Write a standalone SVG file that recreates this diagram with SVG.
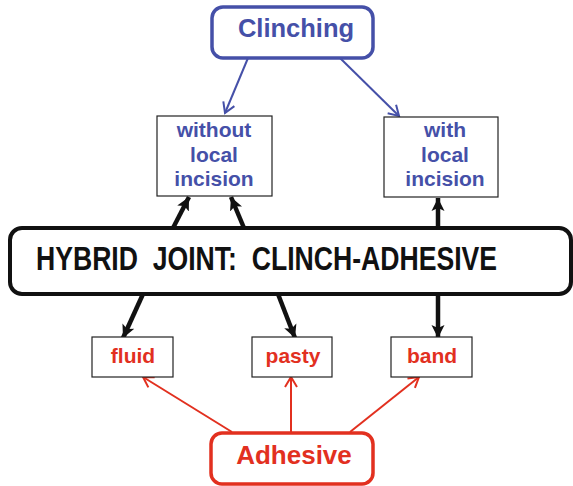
<svg xmlns="http://www.w3.org/2000/svg" width="573" height="486" viewBox="0 0 573 486">
<style>
.t{font-family:"Liberation Sans",Arial,sans-serif;font-weight:bold;text-anchor:middle}
.blue{fill:#4550a8}
.red{fill:#e2301f}
.sbox{fill:#fff;stroke:#222;stroke-width:1.2}
.bl{stroke:#4550a8;stroke-width:2;fill:none}
.rd{stroke:#e2301f;stroke-width:2;fill:none}
.bk{stroke:#111;stroke-width:4.5;fill:none}
</style>
<defs>
<marker id="ab" markerUnits="userSpaceOnUse" markerWidth="16" markerHeight="16" refX="12" refY="8" orient="auto">
<path d="M2,2 L12,8 L2,14" fill="none" stroke="#4550a8" stroke-width="2"/>
</marker>
<marker id="ar" markerUnits="userSpaceOnUse" markerWidth="16" markerHeight="16" refX="12" refY="8" orient="auto">
<path d="M2,2 L12,8 L2,14" fill="none" stroke="#e2301f" stroke-width="2"/>
</marker>
<marker id="ak" markerUnits="userSpaceOnUse" markerWidth="16" markerHeight="16" refX="13" refY="8" orient="auto">
<path d="M0,1.5 L13,8 L0,14.5 L3,8 Z" fill="#111"/>
</marker>
</defs>
<g id="connectors">
<line class="bl" x1="248" y1="58" x2="225" y2="113" marker-end="url(#ab)"/>
<line class="bl" x1="340" y1="58" x2="399" y2="116" marker-end="url(#ab)"/>
<line class="bk" x1="173" y1="228" x2="189" y2="197" marker-end="url(#ak)"/>
<line class="bk" x1="244" y1="228" x2="231" y2="197" marker-end="url(#ak)"/>
<line class="bk" x1="438" y1="228" x2="438" y2="198" marker-end="url(#ak)"/>
<line class="bk" x1="143" y1="294" x2="123" y2="338" marker-end="url(#ak)"/>
<line class="bk" x1="278" y1="294" x2="295" y2="338" marker-end="url(#ak)"/>
<line class="bk" x1="438" y1="294" x2="438" y2="338" marker-end="url(#ak)"/>
<line class="rd" x1="232" y1="432" x2="143" y2="377" marker-end="url(#ar)"/>
<line class="rd" x1="291" y1="432" x2="291" y2="377" marker-end="url(#ar)"/>
<line class="rd" x1="350" y1="432" x2="419" y2="377" marker-end="url(#ar)"/>
</g>
<g id="clinching">
<rect x="212" y="7" width="161" height="51" rx="11" fill="#fff" stroke="#4550a8" stroke-width="3.5"/>
<text class="t blue" x="296" y="37" font-size="25.5">Clinching</text>
</g>
<g id="without">
<rect class="sbox" x="157" y="116" width="115" height="80"/>
<text class="t blue" x="214" y="137" font-size="21">without</text>
<text class="t blue" x="214" y="162" font-size="21">local</text>
<text class="t blue" x="214" y="186" font-size="21">incision</text>
</g>
<g id="with">
<rect class="sbox" x="384" y="117" width="114" height="80"/>
<text class="t blue" x="445" y="137" font-size="21">with</text>
<text class="t blue" x="445" y="162" font-size="21">local</text>
<text class="t blue" x="445" y="186" font-size="21">incision</text>
</g>
<g id="hybrid">
<rect x="10" y="228" width="561" height="66" rx="12" fill="#fff" stroke="#111" stroke-width="4"/>
<text transform="translate(36,270) scale(0.806,1)" x="0" y="0" font-family="'Liberation Sans',Arial,sans-serif" font-weight="bold" font-size="33" fill="#111" xml:space="preserve">HYBRID  JOINT:  CLINCH-ADHESIVE</text>
</g>
<g id="fluid">
<rect class="sbox" x="92" y="337" width="81" height="40"/>
<text class="t red" x="133" y="363" font-size="21">fluid</text>
</g>
<g id="pasty">
<rect class="sbox" x="252" y="337" width="80" height="40"/>
<text class="t red" x="293" y="363" font-size="21">pasty</text>
</g>
<g id="band">
<rect class="sbox" x="391" y="337" width="81" height="40"/>
<text class="t red" x="432" y="363" font-size="21">band</text>
</g>
<g id="adhesive">
<rect x="211" y="433" width="162" height="51" rx="11" fill="#fff" stroke="#e2301f" stroke-width="3.5"/>
<text class="t red" x="294" y="464" font-size="26">Adhesive</text>
</g>
</svg>
